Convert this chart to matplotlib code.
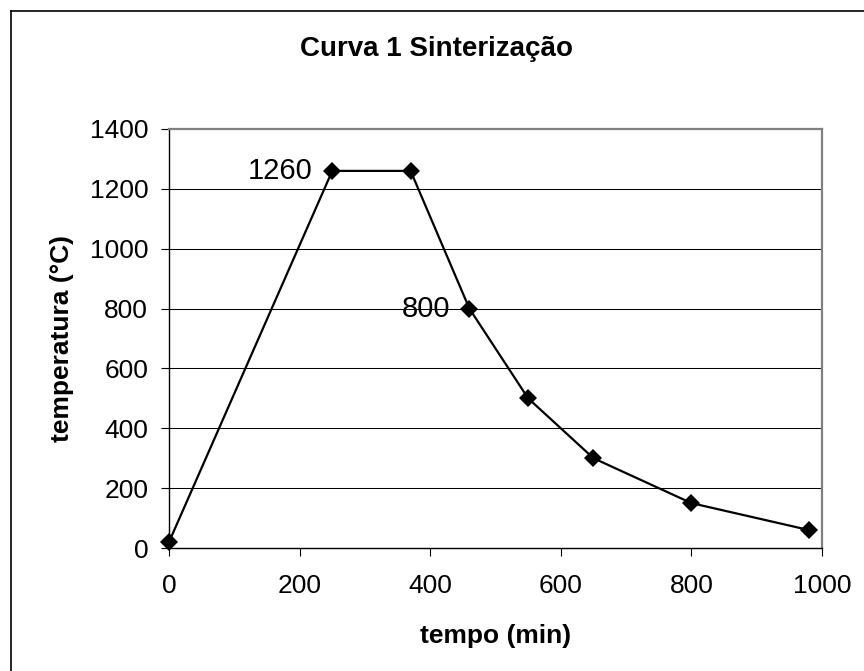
import matplotlib
matplotlib.use('Agg')
import matplotlib.pyplot as plt
from matplotlib.lines import Line2D

# dados da curva de sinterização
tempo = [0, 250, 370, 460, 550, 650, 800, 980]
temperatura = [20, 1260, 1260, 800, 500, 300, 150, 60]
rotulos = {1: '1260', 3: '800'}   # indice do ponto -> texto
x_ticks = [0, 200, 400, 600, 800, 1000]
y_ticks = [0, 200, 400, 600, 800, 1000, 1200, 1400]

plt.rcParams.update({'font.family': ['Liberation Sans', 'DejaVu Sans']})

W, H = 864, 671
fig = plt.figure(figsize=(W / 100, H / 100), dpi=100)
fig.patch.set_facecolor('white')

# moldura externa (esquerda e topo)
fig.add_artist(Line2D([11 / W, 11 / W], [0, 1 - 11 / H], color='black', lw=1.2,
                      transform=fig.transFigure))
fig.add_artist(Line2D([11 / W, 1], [1 - 11 / H, 1 - 11 / H], color='black', lw=1.2,
                      transform=fig.transFigure))

ax = fig.add_axes([169 / W, (H - 548) / H, 653 / W, 419 / H])
ax.set_xlim(0, 1000)
ax.set_ylim(0, 1400)
ax.set_xticks(x_ticks)
ax.set_yticks(y_ticks)

for y in y_ticks[1:-1]:
    ax.axhline(y, color='black', lw=0.75, zorder=1)

ax.plot(tempo, temperatura, color='black', lw=1.6, marker='D', ms=9,
        markeredgewidth=0, zorder=3, clip_on=False)

for i, txt in rotulos.items():
    ax.annotate(txt, (tempo[i], temperatura[i]), xytext=(-14, 0),
                textcoords='offset points', ha='right', va='center', fontsize=21)

ax.spines['top'].set_color('#808080')
ax.spines['right'].set_color('#808080')
ax.spines['top'].set_linewidth(1.6)
ax.spines['right'].set_linewidth(1.6)
ax.spines['left'].set_color('black')
ax.spines['bottom'].set_color('black')
ax.spines['left'].set_linewidth(1.0)
ax.spines['bottom'].set_linewidth(1.0)

ax.tick_params(axis='both', direction='out', length=6, width=0.8, labelsize=19,
               color='black')
ax.tick_params(axis='y', pad=9)
ax.tick_params(axis='x', pad=13)

fig.text(436 / W, 1 - 49 / H, 'Curva 1 Sinterização', ha='center', va='center',
         fontsize=20, fontweight='bold')
fig.text(495.5 / W, 1 - 636 / H, 'tempo (min)', ha='center', va='center',
         fontsize=19, fontweight='bold')
fig.text(62 / W, 1 - 338.5 / H, 'temperatura (°C)', ha='center', va='center',
         rotation=90, fontsize=19, fontweight='bold')

plt.savefig('out.png', dpi=100)
